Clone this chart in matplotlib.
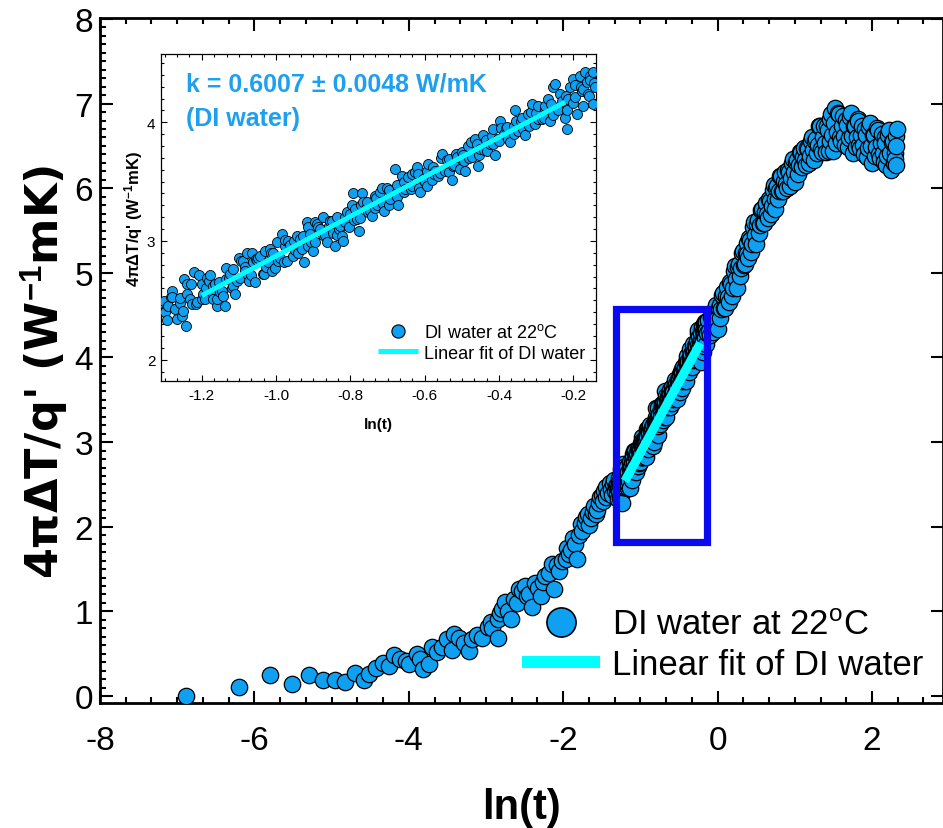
import numpy as np
import matplotlib
matplotlib.use('Agg')
import matplotlib.pyplot as plt
from matplotlib.lines import Line2D
from matplotlib.patches import Rectangle
from matplotlib.ticker import MultipleLocator

plt.rcParams['font.family'] = ['Liberation Sans', 'DejaVu Sans']
plt.rcParams['mathtext.fontset'] = 'custom'
plt.rcParams['mathtext.rm'] = 'Liberation Sans'
plt.rcParams['mathtext.bf'] = 'Liberation Sans:bold'
plt.rcParams['mathtext.it'] = 'Liberation Sans:italic'
plt.rcParams['axes.unicode_minus'] = False

# ---------------- data (ln(t), 4*pi*dT/q') ----------------
early_pts = [(-6.89, 0.00), (-6.20, 0.11), (-5.80, 0.25), (-5.51, 0.14), (-5.29, 0.25),
             (-5.11, 0.19), (-4.95, 0.19), (-4.82, 0.17), (-4.70, 0.27), (-4.58, 0.19),
             (-4.52, 0.26), (-4.42, 0.33), (-4.33, 0.39), (-4.26, 0.35), (-4.19, 0.48),
             (-4.11, 0.44), (-4.04, 0.41), (-4.00, 0.38), (-3.90, 0.50), (-3.85, 0.44),
             (-3.81, 0.32), (-3.74, 0.38), (-3.70, 0.58), (-3.63, 0.52), (-3.57, 0.58),
             (-3.50, 0.67), (-3.44, 0.54), (-3.42, 0.73), (-3.35, 0.68), (-3.29, 0.63),
             (-3.22, 0.53), (-3.18, 0.67), (-3.11, 0.72), (-3.05, 0.69), (-2.98, 0.81),
             (-2.94, 0.87), (-2.92, 0.80), (-2.85, 0.69), (-2.85, 0.91), (-2.82, 0.98),
             (-2.79, 1.03), (-2.75, 1.11), (-2.72, 1.00), (-2.68, 0.91), (-2.64, 1.15),
             (-2.60, 1.10), (-2.57, 1.26), (-2.53, 1.24), (-2.50, 1.30), (-2.47, 1.18),
             (-2.44, 1.20), (-2.40, 1.05), (-2.36, 1.34), (-2.32, 1.28), (-2.29, 1.18),
             (-2.26, 1.35), (-2.23, 1.42), (-2.18, 1.45), (-2.14, 1.56), (-2.12, 1.27),
             (-2.08, 1.55), (-2.05, 1.48), (-2.02, 1.60), (-1.97, 1.62), (-1.95, 1.75),
             (-1.92, 1.68), (-1.90, 1.72), (-1.87, 1.87), (-1.85, 1.80), (-1.82, 1.62),
             (-1.80, 1.90), (-1.77, 2.03), (-1.75, 1.95), (-1.72, 2.05), (-1.70, 2.12),
             (-1.68, 2.15), (-1.66, 2.02), (-1.64, 2.10), (-1.62, 2.18), (-1.60, 2.25),
             (-1.58, 2.15), (-1.56, 2.20), (-1.54, 2.28), (-1.52, 2.35), (-1.50, 2.38),
             (-1.48, 2.30), (-1.47, 2.42), (-1.45, 2.47), (-1.44, 2.35), (-1.42, 2.40),
             (-1.40, 2.52), (-1.38, 2.45), (-1.37, 2.38), (-1.35, 2.50), (-1.34, 2.55),
             (-1.33, 2.42), (-1.315, 2.48)]

mid_pts = [(-1.303, 2.497), (-1.299, 2.399), (-1.294, 2.330), (-1.290, 2.455), (-1.283, 2.525),
           (-1.281, 2.580), (-1.272, 2.427), (-1.267, 2.343), (-1.258, 2.517), (-1.254, 2.370),
           (-1.249, 2.680), (-1.242, 2.280), (-1.239, 2.640), (-1.231, 2.510), (-1.227, 2.470),
           (-1.222, 2.736), (-1.213, 2.486), (-1.209, 2.710), (-1.200, 2.640), (-1.196, 2.550),
           (-1.191, 2.510), (-1.187, 2.690), (-1.178, 2.710), (-1.173, 2.567), (-1.169, 2.510),
           (-1.164, 2.640), (-1.160, 2.455), (-1.155, 2.650), (-1.151, 2.567), (-1.142, 2.540),
           (-1.137, 2.455), (-1.135, 2.770), (-1.128, 2.690), (-1.119, 2.600), (-1.115, 2.764),
           (-1.110, 2.550), (-1.101, 2.860), (-1.097, 2.690), (-1.090, 2.830), (-1.083, 2.750),
           (-1.079, 2.900), (-1.074, 2.660), (-1.065, 2.900), (-1.061, 2.820), (-1.056, 2.650),
           (-1.052, 2.840), (-1.043, 2.876), (-1.034, 2.720), (-1.030, 2.916), (-1.021, 2.820),
           (-1.016, 2.930), (-1.012, 2.750), (-1.003, 2.770), (-0.998, 2.990), (-0.994, 2.830),
           (-0.985, 3.060), (-0.980, 2.820), (-0.976, 2.960), (-0.971, 2.830), (-0.962, 2.970),
           (-0.953, 3.000), (-0.944, 3.045), (-0.940, 2.900), (-0.935, 2.960), (-0.931, 2.930),
           (-0.925, 2.820), (-0.917, 3.157), (-0.913, 3.115), (-0.909, 3.060), (-0.900, 2.916),
           (-0.895, 2.990), (-0.891, 3.140), (-0.882, 3.100), (-0.873, 3.200), (-0.864, 2.990),
           (-0.859, 3.130), (-0.855, 3.170), (-0.846, 3.070), (-0.841, 2.960), (-0.837, 3.200),
           (-0.832, 3.100), (-0.823, 3.045), (-0.819, 3.000), (-0.814, 3.157), (-0.805, 3.115),
           (-0.800, 3.230), (-0.792, 3.400), (-0.787, 3.270), (-0.783, 3.185), (-0.778, 3.087),
           (-0.770, 3.400), (-0.765, 3.326), (-0.756, 3.284), (-0.747, 3.256), (-0.743, 3.213),
           (-0.734, 3.380), (-0.729, 3.300), (-0.720, 3.410), (-0.711, 3.256), (-0.702, 3.450),
           (-0.693, 3.354), (-0.680, 3.607), (-0.675, 3.410), (-0.671, 3.300), (-0.662, 3.550),
           (-0.653, 3.438), (-0.644, 3.537), (-0.635, 3.466), (-0.626, 3.580), (-0.622, 3.620),
           (-0.613, 3.410), (-0.604, 3.523), (-0.595, 3.466), (-0.590, 3.650), (-0.581, 3.510),
           (-0.572, 3.590), (-0.563, 3.550), (-0.554, 3.733), (-0.545, 3.590), (-0.536, 3.690),
           (-0.527, 3.510), (-0.523, 3.635), (-0.514, 3.705), (-0.505, 3.607), (-0.496, 3.720),
           (-0.491, 3.590), (-0.483, 3.800), (-0.474, 3.705), (-0.465, 3.860), (-0.456, 3.635),
           (-0.451, 3.775), (-0.442, 3.890), (-0.433, 3.760), (-0.424, 3.817), (-0.415, 3.944),
           (-0.411, 3.720), (-0.402, 3.860), (-0.397, 4.014), (-0.388, 3.900), (-0.379, 3.960),
           (-0.370, 3.830), (-0.361, 3.970), (-0.357, 4.100), (-0.348, 3.930), (-0.339, 4.040),
           (-0.330, 3.890), (-0.321, 4.070), (-0.312, 4.155), (-0.303, 3.986), (-0.294, 4.140),
           (-0.285, 4.030), (-0.276, 4.110), (-0.267, 4.197), (-0.263, 4.014), (-0.254, 4.295),
           (-0.249, 4.320), (-0.240, 4.110), (-0.231, 4.180), (-0.222, 4.040), (-0.218, 3.944),
           (-0.216, 4.100), (-0.209, 4.295), (-0.200, 4.365), (-0.195, 4.210), (-0.191, 4.070),
           (-0.182, 4.393), (-0.177, 4.267), (-0.173, 4.140), (-0.168, 4.420), (-0.164, 4.337),
           (-0.159, 4.225), (-0.155, 4.390), (-0.148, 4.155), (-0.146, 4.420), (-0.142, 4.295)]

band_pts = [(-1.290, 2.45), (-1.260, 2.48), (-1.240, 2.55), (-1.215, 2.47), (-1.190, 2.60),
            (-1.170, 2.62), (-1.145, 2.58), (-1.125, 2.72), (-1.105, 2.66), (-1.085, 2.78),
            (-1.068, 2.71), (-1.048, 2.86), (-1.028, 2.78), (-1.008, 2.90), (-0.990, 2.86),
            (-0.968, 3.00), (-0.950, 2.92), (-0.928, 3.04), (-0.905, 2.99), (-0.888, 3.12),
            (-0.868, 3.05), (-0.850, 3.17), (-0.828, 3.13), (-0.810, 3.24), (-0.790, 3.18),
            (-0.772, 3.30), (-0.752, 3.24), (-0.732, 3.36), (-0.713, 3.31), (-0.695, 3.43),
            (-0.675, 3.37), (-0.655, 3.50), (-0.637, 3.44), (-0.617, 3.56), (-0.598, 3.50),
            (-0.578, 3.62), (-0.558, 3.57), (-0.540, 3.68), (-0.520, 3.64), (-0.500, 3.75),
            (-0.480, 3.70), (-0.460, 3.82), (-0.440, 3.77), (-0.420, 3.88), (-0.400, 3.84),
            (-0.380, 3.95), (-0.360, 3.90), (-0.340, 4.01), (-0.320, 3.97), (-0.300, 4.08),
            (-0.280, 4.04), (-0.260, 4.15), (-0.240, 4.10), (-0.220, 4.22), (-0.200, 4.16),
            (-0.180, 4.30), (-0.160, 4.24), (-0.145, 4.33)]

band2_pts = [(-1.280, 2.53), (-1.250, 2.41), (-1.230, 2.64), (-1.200, 2.51), (-1.180, 2.66),
             (-1.160, 2.51), (-1.135, 2.68), (-1.115, 2.62), (-1.095, 2.83), (-1.075, 2.71),
             (-1.055, 2.85), (-1.035, 2.72), (-1.015, 2.90), (-0.995, 2.86), (-0.975, 3.01),
             (-0.955, 2.87), (-0.935, 3.02), (-0.915, 2.96), (-0.895, 3.16), (-0.875, 3.05),
             (-0.855, 3.17), (-0.835, 3.05), (-0.815, 3.20), (-0.795, 3.30), (-0.775, 3.19),
             (-0.755, 3.33), (-0.735, 3.28), (-0.715, 3.45), (-0.695, 3.30), (-0.675, 3.47),
             (-0.655, 3.41), (-0.635, 3.56), (-0.615, 3.45), (-0.595, 3.59), (-0.575, 3.56),
             (-0.555, 3.70), (-0.535, 3.58), (-0.515, 3.73), (-0.495, 3.67), (-0.475, 3.83),
             (-0.455, 3.72), (-0.435, 3.85), (-0.415, 3.82), (-0.395, 3.95), (-0.375, 3.86),
             (-0.355, 4.01), (-0.335, 3.94), (-0.315, 4.09), (-0.295, 4.03), (-0.275, 4.14),
             (-0.255, 4.06), (-0.235, 4.24), (-0.215, 4.20), (-0.195, 4.31), (-0.175, 4.28),
             (-0.155, 4.36)]

late_x = [-0.125, -0.100, -0.075, -0.050, -0.025, 0.000, 0.025, 0.050, 0.075, 0.100,
          0.125, 0.150, 0.175, 0.200, 0.225, 0.250, 0.275, 0.300, 0.325, 0.350,
          0.375, 0.400, 0.425, 0.450, 0.475, 0.500, 0.525, 0.550, 0.575, 0.600,
          0.625, 0.650, 0.675, 0.700, 0.725, 0.750, 0.775, 0.800, 0.825, 0.850,
          0.875, 0.900, 0.925, 0.950, 0.975, 1.000, 1.025, 1.050, 1.075, 1.100,
          1.125, 1.150, 1.175, 1.200, 1.225, 1.250, 1.275, 1.300, 1.325, 1.350,
          1.375, 1.400, 1.425, 1.450, 1.475, 1.500, 1.525, 1.550, 1.575, 1.600,
          1.625, 1.650, 1.675, 1.700, 1.725, 1.750, 1.775, 1.800, 1.825, 1.850,
          1.875, 1.900, 1.925, 1.950, 1.975, 2.000, 2.025, 2.050, 2.075, 2.100,
          2.125, 2.150, 2.175, 2.200, 2.225, 2.250, 2.275, 2.300,
          2.305, 2.310, 2.315, 2.320, 2.300]
late_y = [4.44, 4.26, 4.45, 4.38, 4.62, 4.34, 4.62, 4.57, 4.76, 4.59,
          4.83, 4.66, 4.87, 4.82, 5.08, 4.82, 5.10, 5.06, 5.26, 5.10,
          5.35, 5.18, 5.39, 5.34, 5.60, 5.34, 5.62, 5.57, 5.76, 5.59,
          5.82, 5.65, 5.85, 5.79, 6.04, 5.76, 6.03, 5.97, 6.14, 5.97,
          6.19, 6.00, 6.19, 6.12, 6.35, 6.07, 6.33, 6.27, 6.43, 6.25,
          6.47, 6.27, 6.46, 6.38, 6.61, 6.33, 6.58, 6.51, 6.73, 6.43,
          6.74, 6.43, 6.69, 6.56, 6.88, 6.44, 6.95, 6.66, 6.88, 6.56,
          6.85, 6.51, 6.75, 6.59, 6.89, 6.42, 6.74, 6.60, 6.80, 6.47,
          6.74, 6.40, 6.63, 6.47, 6.77, 6.30, 6.63, 6.49, 6.69, 6.36,
          6.64, 6.31, 6.54, 6.38, 6.69, 6.22, 6.56, 6.42,
          6.62, 6.28, 6.50, 6.70, 6.35]

late2_x = [-0.1125, -0.0875, -0.0625, -0.0375, -0.0125, 0.0125, 0.0375, 0.0625, 0.0875, 0.1125,
           0.1375, 0.1625, 0.1875, 0.2125, 0.2375, 0.2625, 0.2875, 0.3125, 0.3375, 0.3625,
           0.3875, 0.4125, 0.4375, 0.4625, 0.4875, 0.5125, 0.5375, 0.5625, 0.5875, 0.6125,
           0.6375, 0.6625, 0.6875, 0.7125, 0.7375, 0.7625, 0.7875, 0.8125, 0.8375, 0.8625,
           0.8875, 0.9125, 0.9375, 0.9625, 0.9875, 1.0125, 1.0375, 1.0625, 1.0875, 1.1125,
           1.1375, 1.1625, 1.1875, 1.2125, 1.2375, 1.2625, 1.2875, 1.3125, 1.3375, 1.3625,
           1.3875, 1.4125, 1.4375, 1.4625, 1.4875, 1.5125, 1.5375, 1.5625, 1.5875, 1.6125,
           1.6375, 1.6625, 1.6875, 1.7125, 1.7375, 1.7625, 1.7875, 1.8125, 1.8375, 1.8625,
           1.8875, 1.9125, 1.9375, 1.9625, 1.9875, 2.0125, 2.0375, 2.0625, 2.0875, 2.1125,
           2.1375, 2.1625, 2.1875, 2.2125, 2.2375, 2.2625, 2.2875]
late2_y = [4.31, 4.48, 4.30, 4.57, 4.46, 4.58, 4.47, 4.74, 4.59, 4.73,
           4.71, 4.89, 4.73, 5.02, 4.93, 5.07, 4.96, 5.24, 5.09, 5.24,
           5.22, 5.41, 5.25, 5.54, 5.45, 5.58, 5.47, 5.74, 5.59, 5.72,
           5.70, 5.87, 5.70, 5.98, 5.87, 6.00, 5.87, 6.14, 5.97, 6.09,
           6.05, 6.22, 6.03, 6.30, 6.19, 6.31, 6.17, 6.43, 6.26, 6.37,
           6.33, 6.48, 6.30, 6.56, 6.45, 6.56, 6.42, 6.74, 6.46, 6.61,
           6.53, 6.74, 6.44, 6.82, 6.63, 6.77, 6.54, 6.89, 6.60, 6.73,
           6.62, 6.81, 6.49, 6.84, 6.62, 6.74, 6.49, 6.82, 6.51, 6.63,
           6.51, 6.70, 6.37, 6.72, 6.50, 6.63, 6.38, 6.71, 6.40, 6.53,
           6.42, 6.60, 6.28, 6.63, 6.42, 6.55, 6.30]

# linear fit segment (slope = 1/k)
fit_x = [-1.200, -0.222]
fit_y = [2.54, 4.17]

# zoom window shown by the inset (x0, x1, y0, y1)
win_x = [-1.31, -0.139]
win_y = [1.82, 4.575]

k_text = "k = 0.6007 ± 0.0048 W/mK"
sample_text = "(DI water)"
leg_labels = ["DI water at 22$^{\\rm o}$C", "Linear fit of DI water"]
ylab = "4πΔT/q' (W$^{\\mathbf{-1}}$mK)"
xlab = "ln(t)"

# ---------------- assemble ----------------
pts = (early_pts + mid_pts + band_pts + band2_pts
       + list(zip(late_x, late_y)) + list(zip(late2_x, late2_y)))
xs = np.array([p[0] for p in pts])
ys = np.array([p[1] for p in pts])
order = np.argsort(xs, kind='stable')
xs, ys = xs[order], ys[order]

FACE = '#0FA0F2'
CYAN = '#00FFFF'
BOX = '#0A0AF0'
TXTBLUE = '#1EA0F0'

W, H = 943, 829
fig = plt.figure(figsize=(W / 100, H / 100), dpi=100)

# main axes
ax = fig.add_axes([100 / W, 125 / H, 843 / W, 685 / H])
ax.scatter(xs, ys, s=140, c=FACE, edgecolors='black', linewidths=0.9, zorder=3)
ax.plot(fit_x, fit_y, color=CYAN, lw=6.5, solid_capstyle='butt', zorder=4)
ax.add_patch(Rectangle((win_x[0], win_y[0]), win_x[1] - win_x[0], win_y[1] - win_y[0],
                       fill=False, ec=BOX, lw=5.2, zorder=5))
ax.set_xlim(-8, 2.92)
ax.set_ylim(-0.083, 8.012)
ax.xaxis.set_major_locator(MultipleLocator(2))
ax.xaxis.set_minor_locator(MultipleLocator(2 / 6))
ax.yaxis.set_major_locator(MultipleLocator(1))
ax.yaxis.set_minor_locator(MultipleLocator(0.1))
ax.tick_params(which='both', direction='in', top=True, right=True, width=1.5)
ax.tick_params(which='major', length=9, labelsize=24)
ax.tick_params(which='minor', length=4.5)
ax.tick_params(axis='y', which='minor', right=False)
ax.tick_params(axis='x', pad=16)
ax.tick_params(axis='y', pad=5)
for sp in ax.spines.values():
    sp.set_linewidth(2)
ax.set_xlabel(xlab, fontsize=30, fontweight='bold')
ax.set_ylabel(ylab, fontsize=32, fontweight='bold', family=['DejaVu Sans'])
ax.xaxis.set_label_coords(0.5, -0.1226)
ax.yaxis.set_label_coords(-0.034, 0.485)

main_handles = [Line2D([], [], ls='none', marker='o', ms=21, mfc=FACE, mec='black', mew=1.2),
                Line2D([], [], color=CYAN, lw=8.6, solid_capstyle='butt')]
ax.legend(main_handles, leg_labels, loc='upper left',
          bbox_to_anchor=(522 / W, 1 - 609 / H), bbox_transform=fig.transFigure,
          frameon=False, fontsize=25, handlelength=2.25, handletextpad=0.35,
          labelspacing=0.2, borderpad=0, borderaxespad=0, numpoints=1)

# inset axes
axin = fig.add_axes([161 / W, (H - 382) / H, 435 / W, 327 / H])
axin.scatter(xs, ys, s=52, c=FACE, edgecolors='black', linewidths=0.6, zorder=3)
axin.plot(fit_x, fit_y, color=CYAN, lw=3.5, solid_capstyle='butt', zorder=4)
axin.set_xlim(*win_x)
axin.set_ylim(*win_y)
axin.xaxis.set_major_locator(MultipleLocator(0.2))
axin.xaxis.set_minor_locator(MultipleLocator(0.2 / 6))
axin.yaxis.set_major_locator(MultipleLocator(1))
axin.yaxis.set_minor_locator(MultipleLocator(0.1))
axin.tick_params(which='both', direction='in', top=True, right=True, width=0.8)
axin.tick_params(which='major', length=4.5, labelsize=11)
axin.tick_params(which='minor', length=2.3)
axin.tick_params(axis='x', pad=5)
axin.tick_params(axis='y', pad=4)
for sp in axin.spines.values():
    sp.set_linewidth(0.9)
axin.set_xlabel(xlab, fontsize=11, fontweight='bold')
axin.set_ylabel(ylab, fontsize=12, fontweight='bold')
axin.xaxis.set_label_coords(0.5, -0.11)
axin.yaxis.set_label_coords(-0.037, 0.498)
axin.text(0.0575, 0.887, k_text, transform=axin.transAxes, fontsize=18,
          fontweight='bold', color=TXTBLUE, va='baseline', ha='left', zorder=6)
axin.text(0.0575, 0.783, sample_text, transform=axin.transAxes, fontsize=18,
          fontweight='bold', color=TXTBLUE, va='baseline', ha='left', zorder=6)

in_handles = [Line2D([], [], ls='none', marker='o', ms=9.5, mfc=FACE, mec='black', mew=0.8),
              Line2D([], [], color=CYAN, lw=3.6, solid_capstyle='butt')]
axin.legend(in_handles, leg_labels, loc='upper left',
            bbox_to_anchor=(378 / W, 1 - 324 / H), bbox_transform=fig.transFigure,
            frameon=False, fontsize=13, handlelength=2.2, handletextpad=0.33,
            labelspacing=0.2, borderpad=0, borderaxespad=0, numpoints=1)

fig.savefig('out.png', dpi=100)
